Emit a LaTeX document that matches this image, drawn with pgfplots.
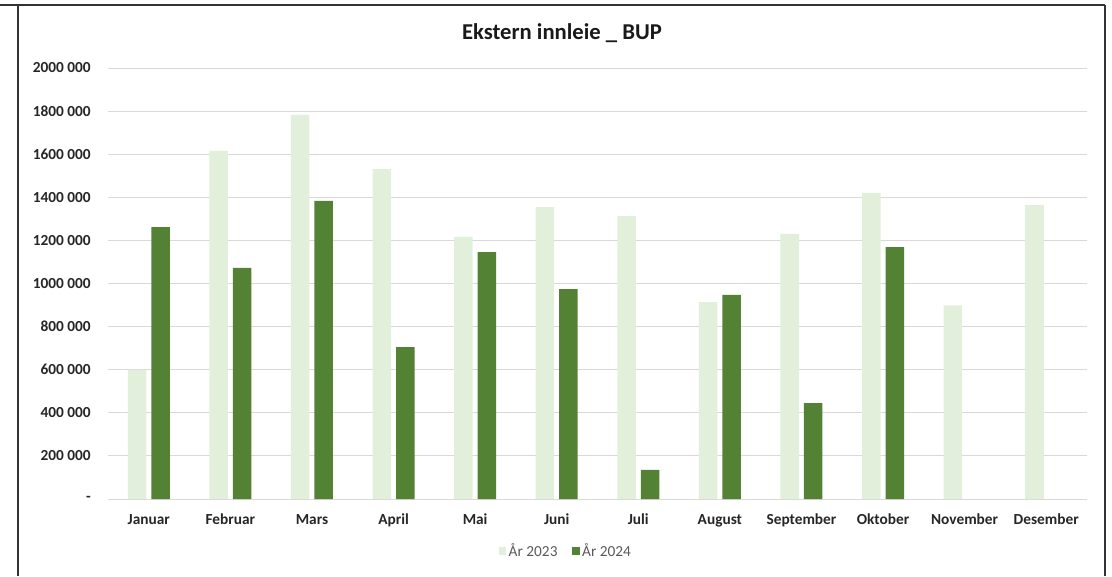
\documentclass[border=0pt]{standalone}
\usepackage{pgfplots}
\pgfplotsset{compat=1.18}
\usepackage{fontspec}
\setmainfont{Carlito}
\definecolor{c23}{HTML}{E2EFDA}
\definecolor{c24}{HTML}{548235}
\definecolor{gridc}{HTML}{D9D9D9}
\definecolor{legtxt}{HTML}{595959}
\begin{document}
\begin{tikzpicture}[x=1pt,y=1pt]
\useasboundingbox (-81,-57.75) rectangle (753,374.25);
\draw[line width=1.1pt, black!80] (-81,370.5) -- (747.75,370.5);
\draw[line width=1.1pt, black!80] (-67.5,370.5) -- (-67.5,-57.75);
\draw[line width=1.1pt, black!80] (747.75,370.5) -- (747.75,-57.75);
\node[font=\fontsize{17}{20}\selectfont\bfseries, text=black!90] at (340.5,349.5) {Ekstern innleie \_ BUP};
\begin{axis}[
  at={(0,0)}, anchor=south west,
  scale only axis, width=734.25pt, height=323.25pt,
  xmin=-0.5, xmax=11.5, ymin=0, ymax=2000000,
  ybar, bar width=13.9pt,
  xtick={0,...,11},
  xticklabels={Januar,Februar,Mars,April,Mai,Juni,Juli,August,September,Oktober,November,Desember},
  ytick={0,200000,400000,600000,800000,1000000,1200000,1400000,1600000,1800000,2000000},
  yticklabels={{-\hspace{6pt}},200 000,400 000,600 000,800 000,1000 000,1200 000,1400 000,1600 000,1800 000,2000 000},
  scaled y ticks=false,
  ymajorgrids, grid style={gridc, line width=0.75pt},
  axis line style={draw=none}, major tick length=0pt,
  tick label style={font=\fontsize{11.5}{13}\selectfont\bfseries, text=black!85},
  yticklabel style={anchor=east, inner sep=0pt, xshift=-12.75pt},
  xticklabel style={anchor=base, inner sep=0pt, yshift=-19pt},
  clip=false,
  legend columns=2,
  legend style={at={(rel axis cs:0.468,-0.1206)}, anchor=center, draw=none, fill=none,
    font=\fontsize{11.5}{13}\selectfont, text=legtxt,
    /tikz/every even column/.append style={column sep=9pt}},
  legend image code/.code={\fill[#1,draw=none] (0pt,-2.8pt) rectangle (5.5pt,2.7pt);},
]
\addplot[fill=c23, draw=none, bar shift=-8.8pt] coordinates {
(0,600000) (1,1615000) (2,1782000) (3,1531000) (4,1216000) (5,1355000)
(6,1313000) (7,914000) (8,1230000) (9,1420000) (10,898000) (11,1364000)};
\addplot[fill=c24, draw=none, bar shift=8.8pt] coordinates {
(0,1262000) (1,1072000) (2,1383000) (3,705000) (4,1146000) (5,974000)
(6,135000) (7,947000) (8,445000) (9,1169000)};
\legend{År 2023, År 2024}
\end{axis}
\end{tikzpicture}
\end{document}
